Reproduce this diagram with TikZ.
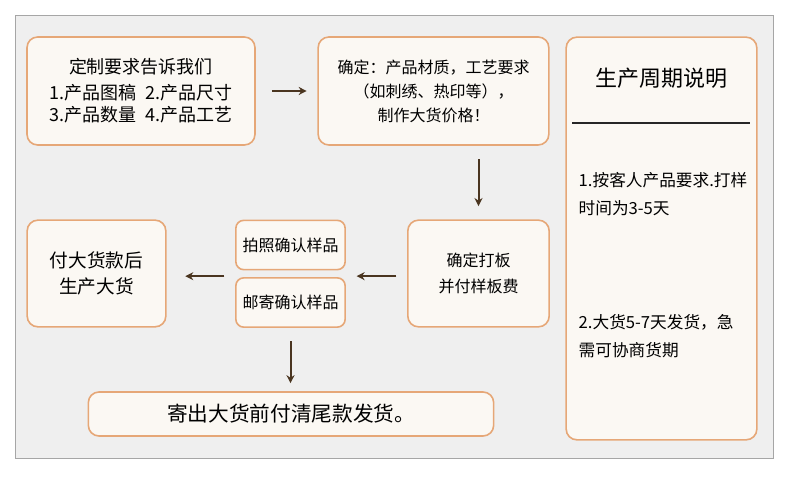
\documentclass[tikz,border=0pt]{standalone}
\usepackage{fontspec}
\setmainfont{Noto Sans CJK SC}
\usetikzlibrary{arrows.meta}
\definecolor{panelgray}{HTML}{EFEFEF}
\definecolor{boxfill}{HTML}{FBF8F3}
\definecolor{boxline}{HTML}{E6A777}
\definecolor{arrowbrown}{HTML}{4A3520}

\begin{document}
\begin{tikzpicture}[
    x=0.75pt, y=-0.75pt,
    >={Stealth[length=6pt,width=6pt]},
    box/.style={draw=boxline, fill=boxfill, line width=1.2pt, rounded corners=8pt, align=center, inner sep=0pt},
    step_arrow/.style={->, draw=arrowbrown, line width=1.5pt}
]

    % Background and frame
    \useasboundingbox (0,0) rectangle (790,477);
    \fill[white] (0,0) rectangle (790,477);
    \draw[gray!70, fill=panelgray] (15,15) rectangle (773,458);

    % Steps
    \node[box, minimum width=171pt, minimum height=81pt, font=\fontsize{13.5}{16.5}\selectfont] (request) at (141,91)
        {定制要求告诉我们\\[3pt]1.产品图稿\enspace 2.产品尺寸\\3.产品数量\enspace 4.产品工艺};
    \node[box, minimum width=173pt, minimum height=81pt, font=\fontsize{12}{18}\selectfont] (confirm) at (433.5,91)
        {确定：产品材质，工艺要求\\（如刺绣、热印等），\\制作大货价格！};
    \node[box, minimum width=106pt, minimum height=80pt, font=\fontsize{12}{19}\selectfont] (sample) at (478.5,273.5)
        {确定打板\\并付样板费};
    \node[box, minimum width=82pt, minimum height=37pt, rounded corners=6pt, font=\fontsize{12}{14}\selectfont] (photo) at (290.5,245)
        {拍照确认样品};
    \node[box, minimum width=82pt, minimum height=37pt, rounded corners=6pt, font=\fontsize{12}{14}\selectfont] (mail) at (290.5,302.5)
        {邮寄确认样品};
    \node[box, minimum width=104pt, minimum height=80pt, font=\fontsize{14}{19}\selectfont] (payment) at (96.5,273.5)
        {付大货款后\\生产大货};
    \node[box, minimum width=304pt, minimum height=33pt, font=\fontsize{15.5}{17}\selectfont] (ship) at (291,414)
        {寄出大货前付清尾款发货。};

    % Side panel
    \node[box, minimum width=143pt, minimum height=302pt] (panel) at (661.5,238.5) {};
    \node[font=\fontsize{16.5}{18}\selectfont] (paneltitle) at (661.5,78) {生产周期说明};
    \coordinate (rule_l) at (572,123);
    \coordinate (rule_r) at (750,123);
    \draw[black!85, line width=1.5pt] (rule_l) -- (rule_r);
    \node[anchor=north west, align=left, font=\fontsize{12.5}{20.5}\selectfont, text width=140pt] (note1) at (574,168)
        {1.按客人产品要求.打样\\时间为3-5天};
    \node[anchor=north west, align=left, font=\fontsize{12.5}{20.5}\selectfont, text width=140pt] (note2) at (574,310)
        {2.大货5-7天发货，急\\需可协商货期};

    % Connections
    \draw[step_arrow] ([xshift=12pt]request.east) -- ([xshift=-8pt]confirm.west);
    \draw[step_arrow] ([yshift=-10pt]sample.north |- confirm.south) -- ([yshift=10pt]sample.north);
    \draw[step_arrow] ([xshift=-8pt,yshift=-2pt]sample.west) -- ([xshift=8pt,yshift=-2pt]photo.east |- sample.west);
    \draw[step_arrow] ([xshift=-8pt,yshift=-2pt]photo.west |- sample.west) -- ([xshift=14pt,yshift=-2pt]payment.east);
    \draw[step_arrow] ([yshift=-10pt]mail.south) -- ([yshift=6pt]mail.south |- ship.north);

\end{tikzpicture}
\end{document}
